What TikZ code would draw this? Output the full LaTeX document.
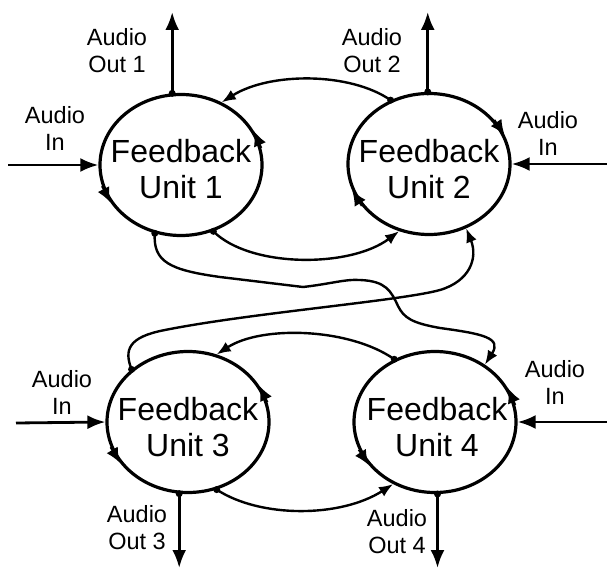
\documentclass[tikz,border=0pt]{standalone}
\usepackage{fontspec}
\setmainfont{Liberation Sans}
\usetikzlibrary{shapes.geometric,arrows.meta}
\begin{document}
\begin{tikzpicture}[x=1pt,y=-1pt,
  unit/.style={draw,ellipse,line width=3.2pt,minimum width=162pt,minimum height=141pt,inner sep=0pt},
  title/.style={font=\fontsize{32}{36}\selectfont,align=center,inner sep=0pt},
  lab/.style={font=\fontsize{23.5}{27}\selectfont,align=center,inner sep=0pt},
  io/.style={line width=2.8pt,-{Latex[length=18pt,width=14pt]}},
  link/.style={line width=2.4pt,-{Latex[length=14pt,width=11pt]}},
  flow/.style={line width=2pt,-{Latex[length=15pt,width=13pt]}},
  dot/.style={circle,fill,inner sep=0pt,minimum size=7pt}]
\useasboundingbox (0,0) rectangle (607,569);

% units
\node[unit] (u1) at (181,165) {};
\node[unit] (u2) at (429,164) {};
\node[unit] (u3) at (188,422) {};
\node[unit] (u4) at (435,422) {};
\node[title] (t1) at (181,169) {Feedback\\Unit 1};
\node[title] (t2) at (429,169) {Feedback\\Unit 2};
\node[title] (t3) at (188,427.5) {Feedback\\Unit 3};
\node[title] (t4) at (437,427.5) {Feedback\\Unit 4};

% arrows on the outlines
\draw[flow] (u1.12) -- (u1.25);
\draw[flow] (u1.195) -- (u1.208);
\draw[flow] (u2.34) -- (u2.21);
\draw[flow] (u2.212) -- (u2.199);
\draw[flow] (u3.14) -- (u3.27);
\draw[flow] (u3.198) -- (u3.211);
\draw[flow] (u4.12) -- (u4.25);
\draw[flow] (u4.200) -- (u4.213);

% audio in
\coordinate (i1) at (8,165);
\coordinate (i2) at (607,164);
\coordinate (i3) at (16,423);
\coordinate (i4) at (607,422);
\draw[io] (i1) -- (u1.west);
\draw[io] (i2) -- (u2.east);
\draw[io] (i3) -- (u3.west);
\draw[io] (i4) -- (u4.east);

% audio out
\coordinate (o1) at (173,12);
\coordinate (o2) at (428,12);
\coordinate (o3) at (179,568);
\coordinate (o4) at (437,568);
\draw[io] (u1.97) -- (u1.97 |- o1);
\draw[io] (u2.91) -- (u2.91 |- o2);
\draw[io] (u3.263) -- (u3.263 |- o3);
\draw[io] (u4.272) -- (u4.272 |- o4);
\node[dot] (do1) at (u1.97) {};
\node[dot] (do2) at (u2.91) {};
\node[dot] (do3) at (u3.263) {};
\node[dot] (do4) at (u4.272) {};

% labels
\node[lab] (l1) at (117,51) {Audio\\Out 1};
\node[lab] (l2) at (372,51) {Audio\\Out 2};
\node[lab] (l3) at (137,528) {Audio\\Out 3};
\node[lab] (l4) at (397,532) {Audio\\Out 4};
\node[lab] (m1) at (55,128) {Audio\\In};
\node[lab] (m2) at (548,133) {Audio\\In};
\node[lab] (m3) at (62,392) {Audio\\In};
\node[lab] (m4) at (555,382) {Audio\\In};

% links between units
\draw[link] (u2.121) .. controls (350,72) and (270,72) .. (u1.57);
\draw[link] (u1.296) .. controls (250,268) and (350,268) .. (u2.246);
\draw[link] (u4.123) .. controls (350,328) and (262,325) .. (u3.67);
\draw[link] (u3.293) .. controls (260,518) and (340,518) .. (u4.236);
\draw[link] (u1.249) .. controls (153,262) and (170,270) .. (220,277)
  -- (303,287) .. controls (330,284) and (345,279) .. (360,280)
  .. controls (386,281) and (391,291) .. (398,306)
  .. controls (404,318) and (412,323) .. (440,328)
  .. controls (484,334) and (502,338) .. (u4.49);
\draw[link] (u3.137) .. controls (124,350) and (128,337) .. (165,330)
  .. controls (250,313) and (400,301) .. (440,290)
  .. controls (470,281) and (478,258) .. (u2.300);
\node[dot] (d1) at (u1.249) {};
\node[dot] (d2) at (u1.296) {};
\node[dot] (d3) at (u2.121) {};
\node[dot] (d4) at (u3.137) {};
\node[dot] (d5) at (u3.293) {};
\node[dot] (d6) at (u4.123) {};
\end{tikzpicture}
\end{document}
